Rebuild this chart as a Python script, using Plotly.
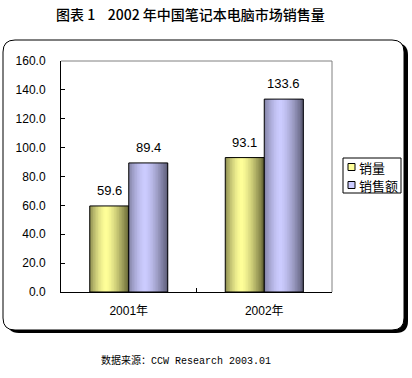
import plotly.graph_objects as go

categories = ["2001年", "2002年"]
series_names = ["销量", "销售额"]
sales_volume = [59.6, 93.1]
sales_value = [89.4, 133.6]
y_ticks = [0, 20, 40, 60, 80, 100, 120, 140, 160]

W, H = 412, 378
ML, MR, MT, MB = 61, 80, 61, 86
PW, PH = W - ML - MR, H - MT - MB


def px(x):
    return (x - ML) / PW


def py(y):
    return (H - MB - y) / PH


def rrect(x0, y0, x1, y1, r):
    # rounded rectangle path in paper coords from pixel coords
    rx, ry = r / PW, r / PH
    X0, X1 = px(x0), px(x1)
    Y0, Y1 = py(y0), py(y1)  # Y0 top (greater), Y1 bottom
    return (f"M{X0+rx},{Y0} L{X1-rx},{Y0} Q{X1},{Y0} {X1},{Y0-ry} "
            f"L{X1},{Y1+ry} Q{X1},{Y1} {X1-rx},{Y1} L{X0+rx},{Y1} "
            f"Q{X0},{Y1} {X0},{Y1+ry} L{X0},{Y0-ry} Q{X0},{Y0} {X0+rx},{Y0} Z")


def lerp(c1, c2, t):
    return tuple(int(round(a + (b - a) * t)) for a, b in zip(c1, c2))


def grad(left, peak, right, t, tp=0.42):
    if t <= tp:
        s = t / tp
        s = 1 - (1 - s) ** 1.6
        return lerp(left, peak, s)
    s = (t - tp) / (1 - tp)
    s = s ** 1.4
    return lerp(peak, right, s)


series = [
    (series_names[0], sales_volume, (140, 140, 80), (255, 255, 153), (100, 100, 52), "#FFFF99"),
    (series_names[1], sales_value, (130, 130, 165), (204, 204, 255), (92, 92, 118), "#CCCCFF"),
]

bw = 39 / (PW / len(categories))  # bar width in category units
N = 24
fig = go.Figure()
for k, (name, vals, cl, cp, cr, base) in enumerate(series):
    start = -bw + k * bw
    for i in range(N):
        t = (i + 0.5) / N
        c = grad(cl, cp, cr, t)
        fig.add_trace(go.Bar(
            x=categories, y=vals, width=bw - i * bw / N, offset=start + i * bw / N,
            marker=dict(color=f"rgb{c}", line=dict(width=0)),
            showlegend=False, hoverinfo="skip"))
    fig.add_trace(go.Bar(
        x=categories, y=vals, name=name, width=bw, offset=start,
        marker=dict(color="rgba(0,0,0,0)", line=dict(color="black", width=1)),
        showlegend=False))

annotations = []
for k, (name, vals, cl, cp, cr, base) in enumerate(series):
    for c, v in zip(categories, vals):
        annotations.append(dict(
            x=c, y=v, xref="x", yref="y", text=f"{v:.1f}", showarrow=False,
            xanchor="center", yanchor="bottom", xshift=(-19.5 if k == 0 else 19.5), yshift=6,
            font=dict(family="Liberation Sans, Arial", size=13, color="black")))

annotations.append(dict(
    x=px(190), y=py(14), xref="paper", yref="paper", showarrow=False,
    text="图表 1\u00a0\u00a0\u00a0 2002 年中国笔记本电脑市场销售量", xanchor="center", yanchor="middle",
    font=dict(family="Noto Sans CJK SC", size=14, color="black", weight=500)))
annotations.append(dict(
    x=px(186), y=py(360), xref="paper", yref="paper", showarrow=False,
    text="数据来源：CCW Research 2003.01", xanchor="center", yanchor="middle",
    font=dict(family="Liberation Mono, Noto Sans CJK SC", size=10, color="black")))

# legend (custom)
leg_items_y = [167, 185]
for k, (name, vals, cl, cp, cr, base) in enumerate(series):
    annotations.append(dict(
        x=px(357), y=py(leg_items_y[k]), xref="paper", yref="paper", showarrow=False,
        text=name, xanchor="left", yanchor="middle",
        font=dict(family="Noto Sans CJK SC", size=13, color="black")))

shapes = [
    dict(type="path", xref="paper", yref="paper", path=rrect(7, 43, 408, 333, 12),
         fillcolor="black", line=dict(width=0), layer="below"),
    dict(type="path", xref="paper", yref="paper", path=rrect(3, 40, 404, 330, 12),
         fillcolor="white", line=dict(color="black", width=1), layer="below"),
    dict(type="line", xref="paper", yref="paper", x0=0, x1=1, y0=1, y1=1,
         line=dict(color="#808080", width=1), layer="above"),
    dict(type="line", xref="paper", yref="paper", x0=1, x1=1, y0=0, y1=1,
         line=dict(color="#808080", width=1), layer="above"),
    dict(type="rect", xref="paper", yref="paper", x0=px(343), x1=px(401), y0=py(158), y1=py(193),
         fillcolor="white", line=dict(color="black", width=1), layer="above"),
]
for k, (name, vals, cl, cp, cr, base) in enumerate(series):
    yc = leg_items_y[k]
    shapes.append(dict(type="rect", xref="paper", yref="paper",
                       x0=px(348), x1=px(355), y0=py(yc - 3.5), y1=py(yc + 3.5),
                       fillcolor=base, line=dict(color="black", width=1), layer="above"))

fig.update_layout(
    width=W, height=H, margin=dict(l=ML, r=MR, t=MT, b=MB),
    paper_bgcolor="white", plot_bgcolor="white",
    barmode="overlay", showlegend=False,
    annotations=annotations, shapes=shapes,
    xaxis=dict(type="category", showline=True, linecolor="black", linewidth=1,
               ticks="inside", ticklen=4, tickcolor="black", tickson="boundaries",
               showgrid=False, ticklabelstandoff=8,
               tickfont=dict(family="Liberation Sans, Arial, Noto Sans CJK SC", size=12, color="black")),
    yaxis=dict(range=[0, 160], tickvals=y_ticks, tickformat=".1f", showline=True,
               linecolor="black", linewidth=1, ticks="inside", ticklen=4, tickcolor="black",
               showgrid=False, zeroline=False, ticklabelstandoff=12,
               tickfont=dict(family="Liberation Sans, Arial", size=12, color="black")),
)

fig.write_html("out.html", config={"displayModeBar": False},
               post_script="document.body.style.margin='0';")
